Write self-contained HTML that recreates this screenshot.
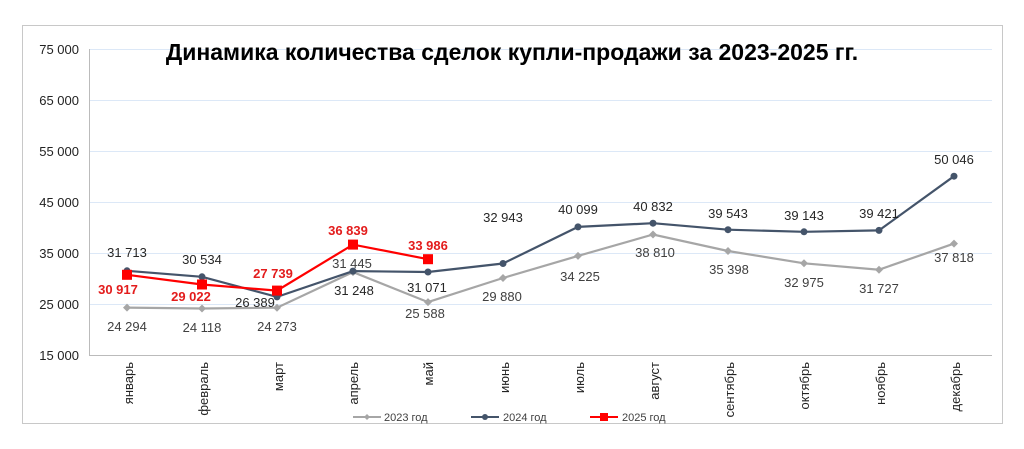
<!DOCTYPE html>
<html><head><meta charset="utf-8"><style>body{margin:0;background:#fff}svg{display:block;font-family:"Liberation Sans",Arial,sans-serif}</style></head><body>
<svg width="1024" height="449" viewBox="0 0 1024 449">
<rect x="22.5" y="25.5" width="980" height="398" fill="#fff" stroke="#c8c8c8"/>
<g stroke="#dce8f7" stroke-width="1">
<line x1="89" y1="49.5" x2="992" y2="49.5"/><line x1="89" y1="100.5" x2="992" y2="100.5"/><line x1="89" y1="151.5" x2="992" y2="151.5"/><line x1="89" y1="202.5" x2="992" y2="202.5"/><line x1="89" y1="253.5" x2="992" y2="253.5"/><line x1="89" y1="304.5" x2="992" y2="304.5"/>
</g>
<line x1="89.5" y1="49" x2="89.5" y2="355" stroke="#bbb"/>
<line x1="89" y1="355.5" x2="992" y2="355.5" stroke="#bbb"/>
<g font-size="13" fill="#222" text-anchor="end">
<text x="79" y="54">75 000</text><text x="79" y="105">65 000</text><text x="79" y="156">55 000</text><text x="79" y="207">45 000</text><text x="79" y="258">35 000</text><text x="79" y="309">25 000</text><text x="79" y="360">15 000</text>
</g>
<text x="512" y="60" font-size="23" font-weight="bold" text-anchor="middle" fill="#000">Динамика количества сделок купли-продажи за 2023-2025 гг.</text>
<g font-size="13" fill="#222" text-anchor="end">
<text transform="translate(133,362) rotate(-90)">январь</text>
<text transform="translate(208,362) rotate(-90)">февраль</text>
<text transform="translate(283,362) rotate(-90)">март</text>
<text transform="translate(358,362) rotate(-90)">апрель</text>
<text transform="translate(433,362) rotate(-90)">май</text>
<text transform="translate(509,362) rotate(-90)">июнь</text>
<text transform="translate(584,362) rotate(-90)">июль</text>
<text transform="translate(659,362) rotate(-90)">август</text>
<text transform="translate(734,362) rotate(-90)">сентябрь</text>
<text transform="translate(809,362) rotate(-90)">октябрь</text>
<text transform="translate(885,362) rotate(-90)">ноябрь</text>
<text transform="translate(960,362) rotate(-90)">декабрь</text>
</g>
<!-- 2023 -->
<polyline fill="none" stroke="#a6a6a6" stroke-width="2.2" points="127,307.6 202,308.5 277,307.7 353,272.1 428,302.1 503,278.0 578,255.9 653,234.5 728,251.0 804,263.3 879,269.7 954,243.6"/>
<g fill="#a6a6a6">
<path d="M127,303.6l4,4-4,4-4-4z"/><path d="M202,304.5l4,4-4,4-4-4z"/><path d="M277,303.7l4,4-4,4-4-4z"/><path d="M353,268.1l4,4-4,4-4-4z"/><path d="M428,298.1l4,4-4,4-4-4z"/><path d="M503,274l4,4-4,4-4-4z"/><path d="M578,251.9l4,4-4,4-4-4z"/><path d="M653,230.5l4,4-4,4-4-4z"/><path d="M728,247l4,4-4,4-4-4z"/><path d="M804,259.3l4,4-4,4-4-4z"/><path d="M879,265.7l4,4-4,4-4-4z"/><path d="M954,239.6l4,4-4,4-4-4z"/>
</g>
<!-- 2024 -->
<polyline fill="none" stroke="#44546a" stroke-width="2.2" points="127,270.8 202,276.8 277,296.9 353,271.1 428,272.0 503,263.5 578,226.9 653,223.2 728,229.7 804,231.8 879,230.4 954,176.2"/>
<g fill="#44546a">
<circle cx="127" cy="270.8" r="3.5"/><circle cx="202" cy="276.8" r="3.5"/><circle cx="277" cy="296.9" r="3.5"/><circle cx="353" cy="271.1" r="3.5"/><circle cx="428" cy="272" r="3.5"/><circle cx="503" cy="263.5" r="3.5"/><circle cx="578" cy="226.9" r="3.5"/><circle cx="653" cy="223.2" r="3.5"/><circle cx="728" cy="229.7" r="3.5"/><circle cx="804" cy="231.8" r="3.5"/><circle cx="879" cy="230.4" r="3.5"/><circle cx="954" cy="176.2" r="3.5"/>
</g>
<!-- 2025 -->
<polyline fill="none" stroke="#ff0000" stroke-width="2.2" points="127,274.8 202,284.5 277,290.6 353,244.6 428,259.2"/>
<g fill="#ff0000">
<rect x="122" y="269.8" width="10" height="10"/><rect x="197" y="279.5" width="10" height="10"/><rect x="272" y="285.6" width="10" height="10"/><rect x="348" y="239.6" width="10" height="10"/><rect x="423" y="254.2" width="10" height="10"/>
</g>
<g font-size="13" fill="#404040" text-anchor="middle">
<text x="127" y="331">24 294</text><text x="202" y="332">24 118</text><text x="277" y="331">24 273</text><text x="352" y="268">31 445</text><text x="425" y="318">25 588</text><text x="502" y="301">29 880</text><text x="580" y="281">34 225</text><text x="655" y="257">38 810</text><text x="729" y="274">35 398</text><text x="804" y="287">32 975</text><text x="879" y="293">31 727</text><text x="954" y="262">37 818</text>
</g>
<g font-size="13" fill="#262626" text-anchor="middle">
<text x="127" y="257">31 713</text><text x="202" y="264">30 534</text><text x="255" y="307">26 389</text><text x="354" y="295">31 248</text><text x="427" y="292">31 071</text><text x="503" y="222">32 943</text><text x="578" y="214">40 099</text><text x="653" y="211">40 832</text><text x="728" y="218">39 543</text><text x="804" y="220">39 143</text><text x="879" y="218">39 421</text><text x="954" y="164">50 046</text>
</g>
<g font-size="13" font-weight="bold" fill="#e31c1c" text-anchor="middle">
<text x="118" y="294">30 917</text><text x="191" y="301">29 022</text><text x="273" y="278">27 739</text><text x="348" y="235">36 839</text><text x="428" y="250">33 986</text>
</g>
<g font-size="11" fill="#404040">
<line x1="353" y1="417" x2="381" y2="417" stroke="#a6a6a6" stroke-width="2"/><path d="M367,414l3,3-3,3-3-3z" fill="#a6a6a6"/><text x="384" y="421">2023 год</text>
<line x1="471" y1="417" x2="499" y2="417" stroke="#44546a" stroke-width="2"/><circle cx="485" cy="417" r="3" fill="#44546a"/><text x="503" y="421">2024 год</text>
<line x1="590" y1="417" x2="618" y2="417" stroke="#ff0000" stroke-width="2"/><rect x="600" y="413" width="8" height="8" fill="#ff0000"/><text x="622" y="421">2025 год</text>
</g>
</svg>
</body></html>
